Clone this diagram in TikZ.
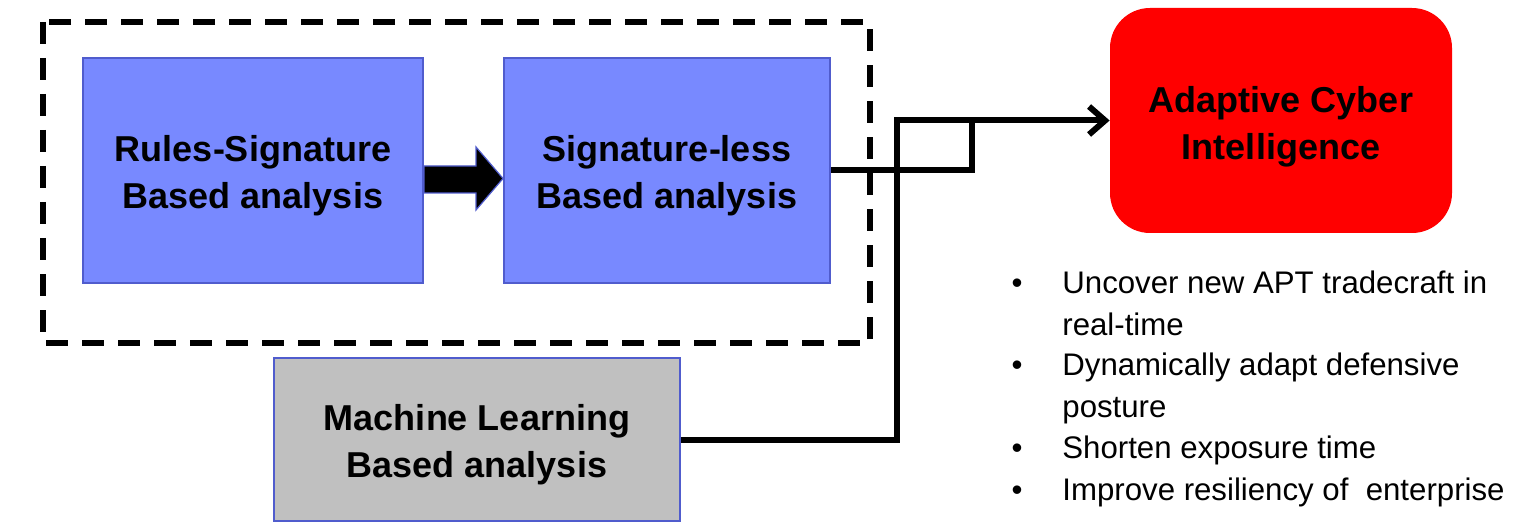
\documentclass[tikz,border=0pt]{standalone}
\usepackage{fontspec}
\setmainfont{Liberation Sans}
\usetikzlibrary{arrows.meta}
\definecolor{boxblue}{RGB}{120,137,255}
\definecolor{edgeblue}{RGB}{80,92,205}
\definecolor{mlgray}{RGB}{192,192,192}
\definecolor{aired}{RGB}{255,0,0}
\begin{document}
\begin{tikzpicture}[x=0.5pt,y=-0.5pt,
  boxtext/.style={font=\fontsize{18}{23.5}\selectfont\bfseries, align=center, inner sep=0pt},
  bluebox/.style={draw=edgeblue, line width=1pt, fill=boxblue, minimum height=112.5pt},
  graybox/.style={draw=edgeblue, line width=1pt, fill=mlgray},
  redbox/.style={fill=aired, rounded corners=20pt},
  conn/.style={line width=3pt, line join=miter, line cap=butt},
  dashbox/.style={line width=3pt, dash pattern=on 11pt off 7pt},
  bullettext/.style={font=\fontsize{15.6}{20.9}\selectfont, align=left, inner sep=0pt, anchor=base west},
  bulletdot/.style={font=\fontsize{15.6}{20.9}\selectfont, inner sep=0pt, anchor=base}
]
\useasboundingbox (0,0) rectangle (1514,529);

% dashed frame
\draw[dashbox] (43,22) rectangle (870,343);

% boxes
\node[bluebox, minimum width=170pt] (rs) at (253,170.5) {};
\node[boxtext] (rst) at ([yshift=-2.5pt]rs.center) {Rules-Signature\\Based analysis};
\node[bluebox, minimum width=163pt] (sl) at (667,170.5) {};
\node[boxtext] (slt) at ([yshift=-2.5pt]sl.center) {Signature-less\\Based analysis};
\node[graybox, minimum width=203pt, minimum height=81.5pt] (ml) at (477,439.5) {};
\node[boxtext] (mlt) at ([yshift=-2.5pt]ml.center) {Machine Learning\\Based analysis};
\node[redbox, minimum width=171pt, minimum height=112.5pt] (ai) at (1281,120.5) {};
\node[boxtext] (ait) at ([yshift=-3pt]ai.center) {Adaptive Cyber\\Intelligence};

% block arrow between the two blue boxes
\filldraw[fill=black, draw=edgeblue, line width=0.6pt]
  (rs.east |- 0,166) -- (476,166) -- (476,147) -- (sl.west |- 0,178.5)
  -- (476,210) -- (476,193) -- (rs.east |- 0,193) -- cycle;

% connectors
\coordinate (j) at (897,120.5);
\coordinate (k) at (972,120.5);
\draw[conn, -{Straight Barb[length=8pt,width=14pt]}] (ml.east) -| (j) -- (ai.west);
\draw[conn] (sl.east) -| (k);

% bullet list
\node[bulletdot] (d1) at (1017,293) {•};
\node[bullettext] (t1) at (1062,335) {Uncover new APT tradecraft in\\real-time};
\node[bulletdot] (d2) at (1017,375) {•};
\node[bullettext] (t2) at (1062,417) {Dynamically adapt defensive\\posture};
\node[bulletdot] (d3) at (1017,458) {•};
\node[bullettext] (t3) at (1062,458) {Shorten exposure time};
\node[bulletdot] (d4) at (1017,500) {•};
\node[bullettext] (t4) at (1062,500) {Improve resiliency of \ enterprise};
\end{tikzpicture}
\end{document}
